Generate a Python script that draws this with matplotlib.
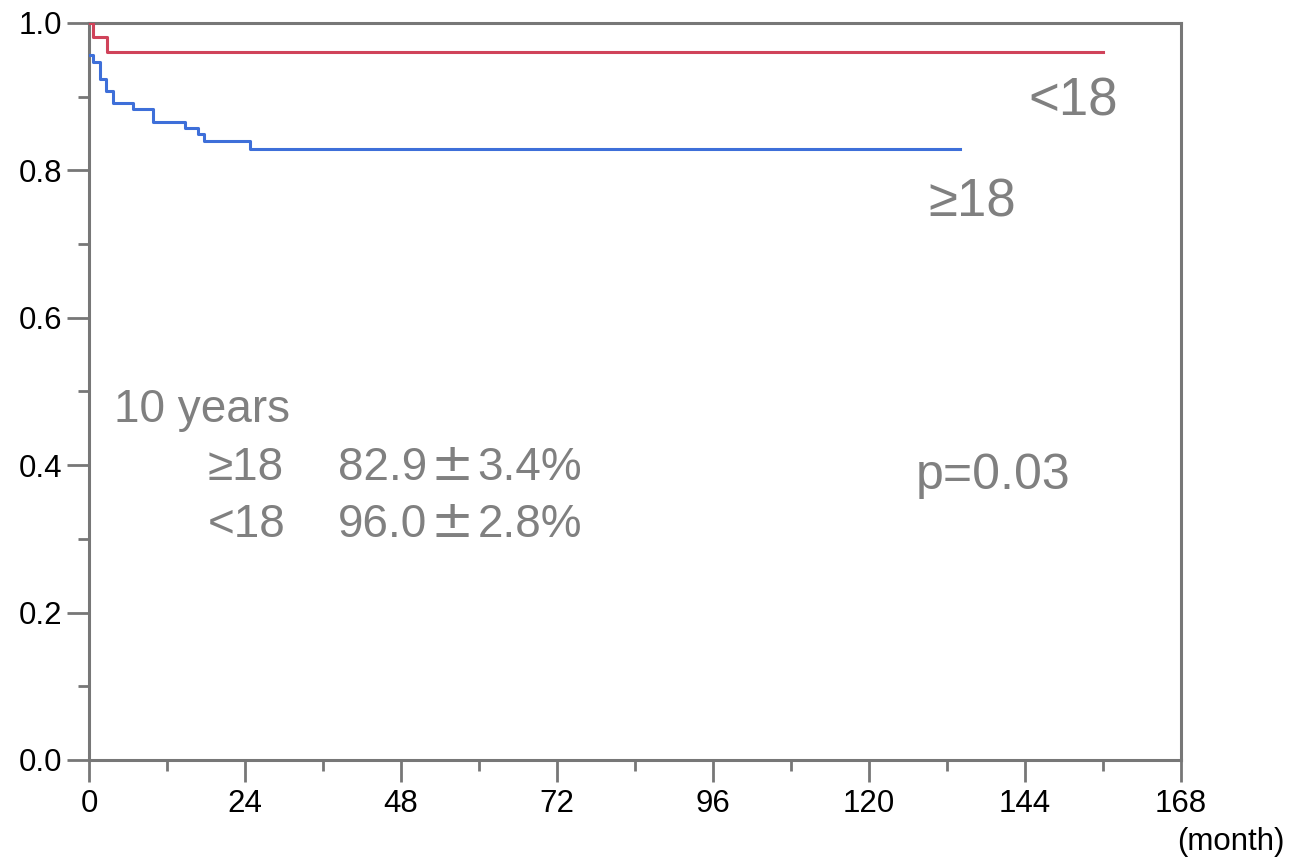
import matplotlib

matplotlib.use("Agg")
import matplotlib.pyplot as plt
from matplotlib.ticker import MultipleLocator

plt.rcParams["font.family"] = ["Liberation Sans", "DejaVu Sans"]

# Kaplan-Meier estimates (months, survival)
under18_time = [0, 0.66, 2.7, 156]
under18_surv = [1.0, 0.981, 0.960, 0.960]

over18_time = [0, 0.66, 1.7, 2.6, 3.7, 6.8, 9.8, 14.8, 16.7, 17.7, 24.8, 134]
over18_surv = [0.956, 0.947, 0.924, 0.908, 0.891, 0.883, 0.866, 0.858, 0.850, 0.840, 0.829, 0.829]

x_ticks = [0, 24, 48, 72, 96, 120, 144, 168]
y_ticks = [0.0, 0.2, 0.4, 0.6, 0.8, 1.0]

# 10-year rates shown in the summary block
rate_labels = ["≥18", "<18"]
rate_means = ["82.9", "96.0"]
rate_errors = ["3.4%", "2.8%"]

RED = "#D0435A"
BLUE = "#3E6FD9"
GRAY = "#808080"
SPINE = "#777777"

fig = plt.figure(figsize=(13.03, 8.6), dpi=100)
ax = fig.add_axes([0.0683, 0.1163, 0.838, 0.857])

ax.step(under18_time, under18_surv, where="post", color=RED, linewidth=2.2, zorder=3)
ax.step(over18_time, over18_surv, where="post", color=BLUE, linewidth=2.2, zorder=3)

ax.set_xlim(0, 168)
ax.set_ylim(0, 1.0)
ax.set_xticks(x_ticks)
ax.set_yticks(y_ticks)
ax.set_yticklabels([f"{v:.1f}" for v in y_ticks])
ax.xaxis.set_minor_locator(MultipleLocator(12))
ax.yaxis.set_minor_locator(MultipleLocator(0.1))

for spine in ax.spines.values():
    spine.set_color(SPINE)
    spine.set_linewidth(2.2)

ax.tick_params(axis="both", which="major", direction="out", length=16, width=2,
               color=SPINE, labelcolor="black")
ax.tick_params(axis="both", which="minor", direction="out", length=8, width=2,
               color=SPINE)
ax.tick_params(axis="y", labelsize=22.5, pad=3)
ax.tick_params(axis="x", labelsize=22.5, pad=5)

# group labels next to the curves
ax.text(144.6, 0.874, "<18", color=GRAY, fontsize=38, ha="left", va="baseline")
ax.text(129.2, 0.738, "≥18", color=GRAY, fontsize=38, ha="left", va="baseline")

# summary block
ax.text(3.85, 0.4586, "10 years", color=GRAY, fontsize=33, ha="left", va="baseline")
for row_y, lab, mean, err in zip([0.380, 0.3026], rate_labels, rate_means, rate_errors):
    ax.text(18.3, row_y, lab, color=GRAY, fontsize=33, ha="left", va="baseline")
    ax.text(38.3, row_y, mean, color=GRAY, fontsize=33, ha="left", va="baseline")
    ax.text(55.8, row_y, "±", color=GRAY, fontsize=37, ha="center", va="baseline",
            family=["DejaVu Sans"])
    ax.text(59.8, row_y, err, color=GRAY, fontsize=33, ha="left", va="baseline")

ax.text(127.2, 0.368, "p=0.03", color=GRAY, fontsize=36, ha="left", va="baseline")

fig.text(0.986, 0.003, "(month)", color="black", fontsize=22.5, ha="right", va="bottom")

fig.savefig("out.png", dpi=100)
